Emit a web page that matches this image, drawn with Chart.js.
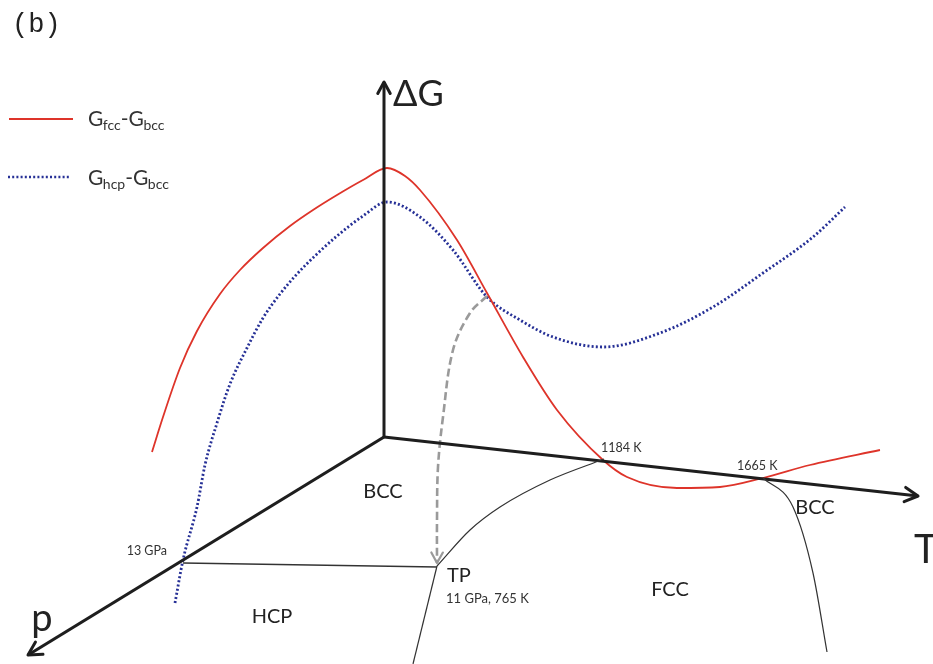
<!DOCTYPE html>
<html>
<head>
<meta charset="utf-8">
<script src="https://cdn.jsdelivr.net/npm/chart.js@4/dist/chart.umd.min.js"></script>
<style>
  html, body { margin: 0; padding: 0; background: #fff; }
  #wrap { width: 933px; height: 664px; }
</style>
</head>
<body>
<div id="wrap"><canvas id="c" width="933" height="664"></canvas></div>
<script>
// Schematic frame: x to the right, y downward, in drawing units.
// Free-energy differences (projected 3D view)
const fccMinusBcc = [
  {x:152,y:452},{x:163,y:417},{x:180,y:368},{x:197,y:331},{x:220,y:294},{x:240,y:270},{x:263,y:248},
  {x:290,y:226},{x:313,y:210},{x:337,y:195},{x:363,y:180},{x:387,y:168},
  {x:405,y:176},{x:420,y:190},{x:457,y:240},{x:487,y:293},{x:523,y:357},{x:557,y:410},{x:603,y:460},
  {x:627,y:477},{x:677,y:488},{x:720,y:487},{x:763,y:478},{x:810,y:465},{x:880,y:450}
];
const hcpMinusBcc = [
  {x:175,y:603},{x:183,y:560},{x:197,y:507},{x:205,y:465},{x:217,y:423},{x:230,y:384},{x:247,y:348},
  {x:263,y:318},{x:280,y:294},{x:297,y:274},{x:317,y:254},{x:337,y:236},{x:363,y:216},{x:387,y:202},
  {x:420,y:217},{x:453,y:250},{x:487,y:297},{x:520,y:320},
  {x:553,y:337},{x:603,y:347},{x:660,y:333},{x:713,y:307},{x:763,y:273},{x:813,y:237},{x:845,y:207}
];
// Phase boundaries on the p-T plane
const hcpBccBoundary = [{x:183,y:563},{x:437,y:567}];
const bccFccBoundary = [{x:437,y:566},{x:470,y:530},{x:500,y:507},{x:550,y:480},{x:604,y:459}];
const hcpFccBoundary = [{x:437,y:566},{x:413,y:664}];
const fccBccHighT = [{x:763,y:478},{x:793,y:507},{x:813,y:573},{x:827,y:652}];
// Projection of the hcp/fcc crossing onto the triple point
const crossingDrop = [{x:487,y:296},{x:470,y:313},{x:453,y:350},{x:443,y:417},{x:438,y:467},{x:437,y:520},{x:437,y:563}];
// Axes: ΔG, T and p
const axisG = [{x:384,y:437},{x:384,y:82}];
const axisT = [{x:384,y:437},{x:918,y:496}];
const axisP = [{x:384,y:437},{x:28,y:655}];

const phaseNames = ['BCC', 'HCP', 'FCC', 'BCC'];
const pointLabels = ['13 GPa', 'TP', '11 GPa, 765 K', '1184 K', '1665 K'];
const axisNames = ['ΔG', 'T', 'p'];
const legendNames = [['G','fcc','-G','bcc'], ['G','hcp','-G','bcc']];

const RED = 'rgb(222,52,42)';
const BLUE = 'rgb(38,48,150)';
const AXIS = '#1e1e1e';
const THIN = '#333';
const GREY = '#9a9a9a';
const FONT = 'Lato, "Open Sans", sans-serif';

function line(data, color, width, extra) {
  return Object.assign({
    data, borderColor: color, borderWidth: width, showLine: true,
    pointRadius: 0, fill: false, tension: 0
  }, extra || {});
}
const smooth = { cubicInterpolationMode: 'monotone' };

const annotate = {
  id: 'annotate',
  afterDatasetsDraw(chart) {
    const ctx = chart.ctx;
    const sx = v => chart.scales.x.getPixelForValue(v);
    const sy = v => chart.scales.y.getPixelForValue(v);

    function chevron(tip, from, color, len, width) {
      const x1 = sx(tip.x), y1 = sy(tip.y), x0 = sx(from.x), y0 = sy(from.y);
      const a = Math.atan2(y1 - y0, x1 - x0);
      ctx.save();
      ctx.strokeStyle = color; ctx.lineWidth = width; ctx.lineCap = 'round'; ctx.lineJoin = 'round';
      ctx.beginPath();
      ctx.moveTo(x1 - len * Math.cos(a - 0.5), y1 - len * Math.sin(a - 0.5));
      ctx.lineTo(x1, y1);
      ctx.lineTo(x1 - len * Math.cos(a + 0.5), y1 - len * Math.sin(a + 0.5));
      ctx.stroke();
      ctx.restore();
    }
    chevron(axisG[1], axisG[0], AXIS, 13, 3);
    chevron(axisT[1], axisT[0], AXIS, 15, 3);
    chevron(axisP[1], axisP[0], AXIS, 15, 3);
    const n = crossingDrop.length;
    chevron(crossingDrop[n - 1], crossingDrop[n - 3], GREY, 12, 2.2);

    function text(str, x, y, size, align, color, family) {
      ctx.save();
      ctx.font = size + 'px ' + (family || FONT);
      ctx.fillStyle = color || '#222';
      ctx.textAlign = align || 'left';
      ctx.textBaseline = 'middle';
      ctx.fillText(str, sx(x), sy(y));
      ctx.restore();
    }
    // panel tag
    text('(b)', 12, 25, 27, 'left', '#222', '"Liberation Mono", "DejaVu Sans Mono", monospace');
    // axis names
    text(axisNames[0], 393, 94, 36, 'left');
    text(axisNames[1], 914, 550, 40, 'left');
    text(axisNames[2], 42, 619, 38, 'center');
    // phase regions
    text(phaseNames[0], 383, 492, 20, 'center');
    text(phaseNames[1], 272, 617, 20, 'center');
    text(phaseNames[2], 670, 590, 20, 'center');
    text(phaseNames[3], 815, 508, 20, 'center');
    // special points
    text(pointLabels[0], 167, 551, 12.5, 'right', '#333');
    text(pointLabels[1], 447, 576, 20, 'left');
    text(pointLabels[2], 446, 599, 13, 'left', '#333');
    text(pointLabels[3], 601, 448, 12.5, 'left', '#333');
    text(pointLabels[4], 737, 466, 12.5, 'left', '#333');

    // legend
    function subText(parts, x, y) {
      ctx.save();
      ctx.fillStyle = '#333';
      ctx.textBaseline = 'middle';
      let px = sx(x);
      const py = sy(y);
      parts.forEach((p, i) => {
        const sub = i % 2 === 1;
        ctx.font = (sub ? 14 : 21) + 'px ' + FONT;
        ctx.fillText(p, px, sub ? py + 6 : py);
        px += ctx.measureText(p).width + (sub ? 0 : -0.5);
      });
      ctx.restore();
    }
    ctx.save();
    ctx.lineCap = 'butt';
    ctx.strokeStyle = RED; ctx.lineWidth = 2.2;
    ctx.beginPath(); ctx.moveTo(sx(9), sy(119)); ctx.lineTo(sx(73), sy(119)); ctx.stroke();
    ctx.strokeStyle = BLUE; ctx.lineWidth = 2.6; ctx.setLineDash([2, 2.2]);
    ctx.beginPath(); ctx.moveTo(sx(8), sy(177)); ctx.lineTo(sx(71), sy(177)); ctx.stroke();
    ctx.restore();
    subText(legendNames[0], 88, 119);
    subText(legendNames[1], 88, 178);
  }
};

new Chart(document.getElementById('c'), {
  type: 'scatter',
  data: {
    datasets: [
      line(hcpBccBoundary, THIN, 1.3),
      line(bccFccBoundary, THIN, 1.2, smooth),
      line(hcpFccBoundary, THIN, 1.2),
      line(fccBccHighT, THIN, 1.2, smooth),
      line(axisG, AXIS, 3),
      line(axisT, AXIS, 3.2),
      line(axisP, AXIS, 3.2),
      line(crossingDrop, GREY, 2.6, {tension: 0.35, borderDash: [8, 4]}),
      line(fccMinusBcc, RED, 1.8, smooth),
      line(hcpMinusBcc, BLUE, 2.8, Object.assign({borderDash: [2, 2.2]}, smooth))
    ]
  },
  options: {
    responsive: false,
    animation: false,
    layout: { padding: 0 },
    scales: {
      x: { type: 'linear', min: 0, max: 933, display: false },
      y: { type: 'linear', min: 0, max: 664, reverse: true, display: false }
    },
    plugins: { legend: { display: false }, tooltip: { enabled: false } }
  },
  plugins: [annotate]
});
</script>
</body>
</html>
